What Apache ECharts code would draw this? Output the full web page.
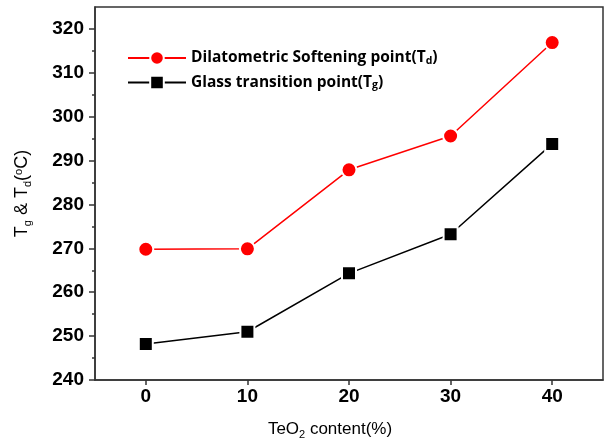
<!DOCTYPE html>
<html>
<head>
<meta charset="utf-8">
<script src="https://cdn.jsdelivr.net/npm/echarts@6/dist/echarts.min.js"></script>
<style>
  html, body { margin: 0; padding: 0; background: #fff; }
  #chart { width: 609px; height: 441px; }
</style>
</head>
<body>
<div id="chart"></div>
<script>
// TeO2 content (%)
const teo2Content = [0, 10, 20, 30, 40];
// Dilatometric softening point Td (°C)
const softeningPoint = [269.8, 269.9, 287.9, 295.6, 316.9];
// Glass transition point Tg (°C)
const glassTransition = [248.2, 251.0, 264.3, 273.2, 293.8];

const xTicks = [0, 10, 20, 30, 40];
const yTicks = [240, 250, 260, 270, 280, 290, 300, 310, 320];

const chart = echarts.init(document.getElementById('chart'));

const axisColor = '#333';
const tickFont = { fontFamily: 'Liberation Sans, Arial, sans-serif', fontWeight: 'bold', fontSize: 19, color: '#000' };

chart.setOption({
  animation: false,
  backgroundColor: '#fff',
  grid: {
    left: 95, right: 6, top: 7, bottom: 61,
    outerBoundsMode: 'none',
    containLabel: false,
    show: true, borderColor: axisColor, borderWidth: 1.5, backgroundColor: 'transparent'
  },
  legend: {
    orient: 'vertical',
    left: 122, top: 45,
    itemWidth: 58, itemHeight: 17, itemGap: 8,
    data: ['Td', 'Tg'],
    formatter: function (name) {
      return name === 'Td'
        ? 'Dilatometric Softening point(T{sub|d})'
        : 'Glass transition point(T{sub|g})';
    },
    textStyle: {
      fontFamily: 'Open Sans, sans-serif', fontWeight: 'bold', fontSize: 15.5, color: '#000',
      rich: {
        sub: { fontFamily: 'Open Sans, sans-serif', fontWeight: 'bold', fontSize: 10.5, verticalAlign: 'bottom', padding: [6, 0, 0, 0] }
      }
    }
  },
  xAxis: {
    type: 'value',
    min: -5, max: 45, interval: 10,
    axisLine: { show: true, onZero: false, lineStyle: { color: axisColor, width: 1.5 } },
    axisTick: { show: true, length: 5, customValues: xTicks, lineStyle: { color: axisColor, width: 1.5 } },
    minorTick: { show: true, splitNumber: 2, length: 3, lineStyle: { color: axisColor, width: 1.5 } },
    splitLine: { show: false },
    axisLabel: Object.assign({ margin: 7, customValues: xTicks }, tickFont),
    name: 'TeO{sub|2} content(%)',
    nameLocation: 'middle',
    nameGap: 39,
    nameTextStyle: {
      fontFamily: 'Liberation Sans, Arial, sans-serif', fontSize: 17, color: '#000',
      padding: [0, 38, 0, 0],
      rich: { sub: { fontSize: 11, padding: [10, 0, 0, 0], fontFamily: 'Liberation Sans, Arial, sans-serif' } }
    }
  },
  yAxis: {
    type: 'value',
    min: 240, max: 325, interval: 10,
    axisLine: { show: true, onZero: false, lineStyle: { color: axisColor, width: 1.5 } },
    axisTick: { show: true, length: 6, customValues: yTicks, lineStyle: { color: axisColor, width: 1.5 } },
    minorTick: { show: true, splitNumber: 2, length: 3, lineStyle: { color: axisColor, width: 1.5 } },
    splitLine: { show: false },
    axisLabel: Object.assign({ margin: 11, customValues: yTicks }, tickFont),
    name: 'T{sub|g} & T{sub|d}({sup|o}C)',
    nameLocation: 'middle',
    nameRotate: 90,
    nameGap: 62,
    nameTextStyle: {
      fontFamily: 'Liberation Sans, Arial, sans-serif', fontSize: 18, color: '#000',
      rich: {
        sub: { fontSize: 11, padding: [10, 0, 0, 0], fontFamily: 'Liberation Sans, Arial, sans-serif' },
        sup: { fontSize: 11, padding: [0, 0, 8, 0], fontFamily: 'Liberation Sans, Arial, sans-serif' }
      }
    }
  },
  series: [
    {
      name: 'Td',
      type: 'line',
      data: teo2Content.map((x, i) => [x, softeningPoint[i]]),
      symbol: 'circle',
      symbolSize: 15,
      color: '#ff0000',
      lineStyle: { color: '#ff0000', width: 1.5 },
      itemStyle: { color: '#ff0000', borderColor: '#fff', borderWidth: 2 },
      z: 3
    },
    {
      name: 'Tg',
      type: 'line',
      data: teo2Content.map((x, i) => [x, glassTransition[i]]),
      symbol: 'rect',
      symbolSize: 14,
      color: '#000',
      lineStyle: { color: '#000', width: 1.5 },
      itemStyle: { color: '#000', borderColor: '#fff', borderWidth: 2 },
      z: 3
    }
  ]
});
</script>
</body>
</html>
